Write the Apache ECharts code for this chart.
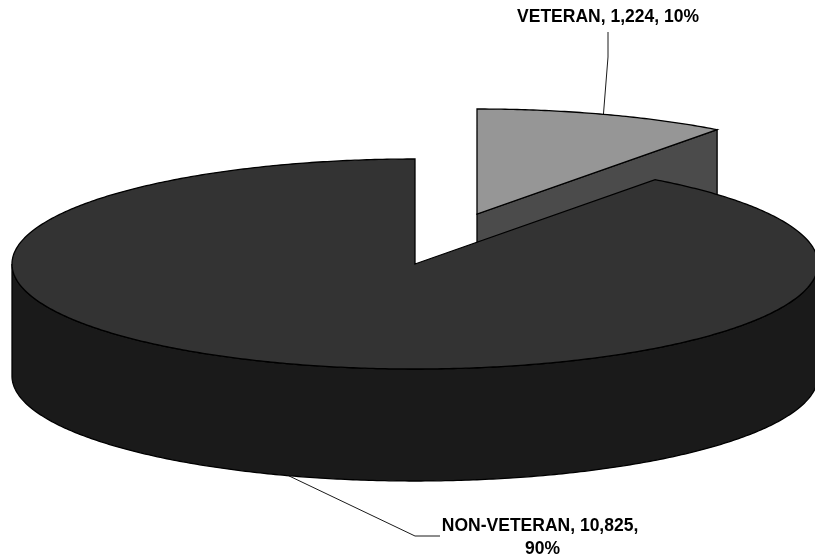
<!DOCTYPE html>
<html>
<head>
<meta charset="utf-8">
<style>html,body{margin:0;padding:0;background:#fff;overflow:hidden}#chart{width:815px;height:558px}</style>
<script src="https://cdn.jsdelivr.net/npm/echarts@6/dist/echarts.min.js"></script>
</head>
<body>
<div id="chart"></div>
<script>
// Veteran status of the population, drawn as an extruded pie.
const categories = ['VETERAN', 'NON-VETERAN'];
const counts = [1224, 10825];
const percents = [10, 90];

const topColors = ['#969696', '#333333'];
const wallColors = ['#4b4b4b', '#1a1a1a'];

// Projection of the pie onto the page.
const pie = { cx: 415, cy: 264, rx: 403, ry: 105, depth: 112 };
const explode = [[62, -50], [0, 0]];
const labelBoxes = [
  { x: 608, y: 17, width: 300, lineHeight: 23, elbow: [[608, 57], [608, 32]] },
  { x: 540, y: 537.5, width: 210, lineHeight: 23, elbow: [[415, 536], [440, 536]] }
];

const total = counts.reduce((a, b) => a + b, 0);
const chart = echarts.init(document.getElementById('chart'), null, { renderer: 'canvas' });

// Angles run clockwise from twelve o'clock.
function rim(c, a) {
  return [c[0] + pie.rx * Math.sin(a), c[1] - pie.ry * Math.cos(a)];
}
function arc(c, a0, a1) {
  const n = Math.max(2, Math.ceil(Math.abs(a1 - a0) / 0.01));
  const pts = [];
  for (let i = 0; i <= n; i++) pts.push(rim(c, a0 + (a1 - a0) * i / n));
  return pts;
}
const down = (p) => [p[0], p[1] + pie.depth];

function renderSlice(params, api) {
  const i = params.dataIndex;
  let before = 0;
  for (let k = 0; k < i; k++) before += counts[k];
  const a0 = before / total * Math.PI * 2;
  const a1 = a0 + api.value(0) / total * Math.PI * 2;
  const c = [pie.cx + explode[i][0], pie.cy + explode[i][1]];
  const line = { stroke: '#000', lineWidth: 1.3, lineJoin: 'miter' };
  const children = [];

  // Cut face on the closing edge, visible when it turns toward the viewer.
  if (a1 < Math.PI) {
    const p = rim(c, a1);
    children.push({
      type: 'polygon',
      shape: { points: [c, p, down(p), down(c)] },
      style: Object.assign({ fill: wallColors[i] }, line)
    });
  }

  // Outer wall on the front half of the ellipse.
  const w0 = Math.max(a0, Math.PI / 2);
  const w1 = Math.min(a1, Math.PI * 1.5);
  if (w1 > w0) {
    const upper = arc(c, w0, w1);
    const lower = upper.map(down).reverse();
    children.push({
      type: 'polygon',
      shape: { points: upper.concat(lower) },
      style: Object.assign({ fill: wallColors[i] }, line)
    });
  }

  // Top surface.
  children.push({
    type: 'polygon',
    shape: { points: [c].concat(arc(c, a0, a1)) },
    style: Object.assign({ fill: topColors[i] }, line)
  });

  // Leader from the middle of the slice's visible rim out to its label.
  const mid = (a0 + a1) / 2;
  let anchor = rim(c, mid);
  if (Math.cos(mid) < 0) anchor = down(anchor);
  const box = labelBoxes[i];
  children.push({
    type: 'polyline',
    shape: { points: [anchor].concat(box.elbow) },
    style: { fill: null, stroke: '#000', lineWidth: 0.9 }
  });

  children.push({
    type: 'text',
    style: {
      x: i === 1 ? box.x + 2.5 : box.x,
      y: box.y,
      text: categories[i] + ', ' + counts[i].toLocaleString('en-US') + ', ' + percents[i] + '%',
      width: box.width,
      overflow: 'break',
      lineHeight: box.lineHeight,
      align: 'center',
      verticalAlign: 'middle',
      fill: '#000',
      font: 'bold 17.5px "Liberation Sans", Arial, sans-serif'
    }
  });
  return { type: 'group', children };
}

chart.setOption({
  animation: false,
  backgroundColor: '#fff',
  series: [{
    type: 'custom',
    coordinateSystem: 'none',
    renderItem: renderSlice,
    data: counts.map((v, i) => ({ name: categories[i], value: [v] }))
  }]
});
</script>
</body>
</html>
